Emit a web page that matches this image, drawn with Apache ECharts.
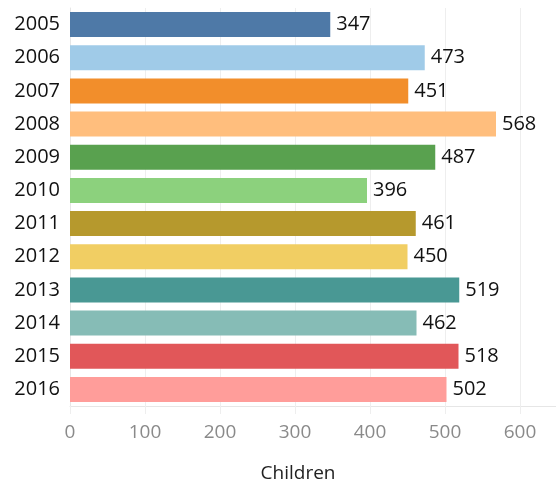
<!DOCTYPE html>
<html>
<head>
<meta charset="utf-8">
<script src="https://cdn.jsdelivr.net/npm/echarts@6/dist/echarts.min.js"></script>
<style>html,body{margin:0;padding:0;background:#fff;}#c{width:556px;height:483px;}</style>
</head>
<body>
<div id="c"></div>
<script>
const years = ['2005','2006','2007','2008','2009','2010','2011','2012','2013','2014','2015','2016'];
const children = [347, 473, 451, 568, 487, 396, 461, 450, 519, 462, 518, 502];
const barColors = ['#4E79A7','#A0CBE8','#F28E2B','#FFBE7D','#59A14F','#8CD17D','#B6992D','#F1CE63','#499894','#86BCB6','#E15759','#FF9D9A'];
const xTicks = [0, 100, 200, 300, 400, 500, 600];

const chart = echarts.init(document.getElementById('c'));
chart.setOption({
  animation: false,
  textStyle: { fontFamily: 'Open Sans' },
  grid: { left: 70, right: 0, top: 8, bottom: 77, containLabel: false, outerBoundsMode: 'none' },
  xAxis: {
    type: 'value', min: 0, max: 648, interval: 100,
    name: 'Children', nameLocation: 'middle', nameGap: 58,
    nameTextStyle: { fontSize: 19, color: '#222', fontFamily: 'Open Sans', padding: [0, 30, 0, 0] },
    axisLine: { show: true, lineStyle: { color: '#e6e6e6', width: 1 } },
    axisTick: { show: true, length: 8, lineStyle: { color: '#eeeeee' } },
    splitLine: { show: true, lineStyle: { color: '#eeeeee', width: 1 } },
    axisLabel: {
      fontSize: 19, color: '#8a8a8a', margin: 17, fontFamily: 'Open Sans',
      formatter: v => xTicks.includes(v) ? String(v) : ''
    }
  },
  yAxis: {
    type: 'category', data: years, inverse: true,
    axisLine: { show: true, lineStyle: { color: '#e6e6e6' } },
    axisTick: { show: false },
    axisLabel: { fontSize: 20, color: '#111', margin: 10, fontFamily: 'Open Sans' }
  },
  series: [{
    type: 'bar',
    data: children.map((v, i) => ({ value: v, itemStyle: { color: barColors[i] } })),
    barWidth: 25,
    label: { show: true, position: 'right', distance: 6, fontSize: 20, color: '#111', fontFamily: 'Open Sans' }
  }]
});
</script>
</body>
</html>
